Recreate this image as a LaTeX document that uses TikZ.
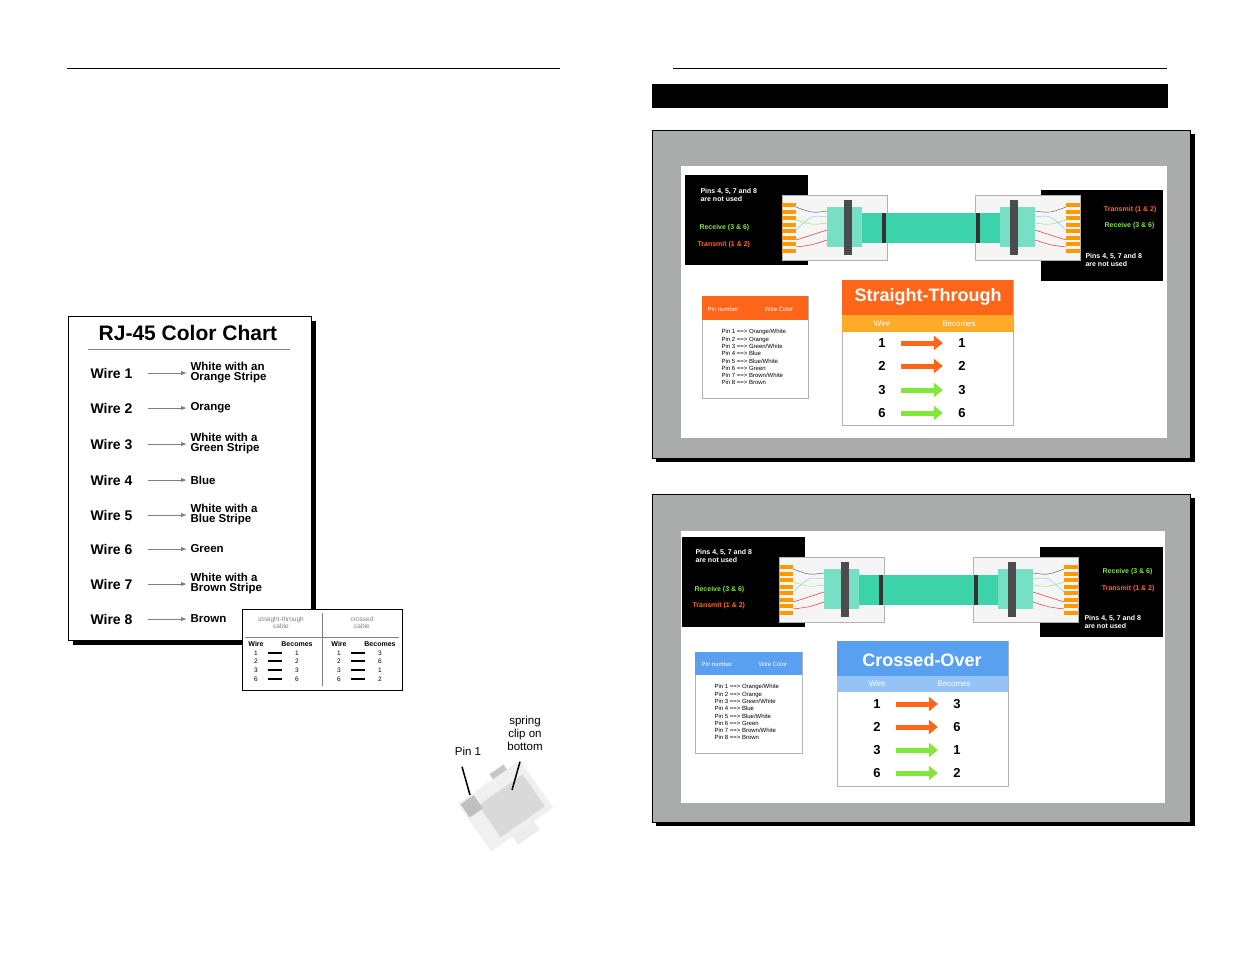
\documentclass[tikz,border=0pt]{standalone}
\usepackage{fontspec}
\setmainfont{Liberation Sans}
\usetikzlibrary{arrows.meta,positioning}
\definecolor{panelgray}{RGB}{170,172,172}
\definecolor{rjorange}{RGB}{255,102,26}
\definecolor{rjlight}{RGB}{255,170,40}
\definecolor{rjblue}{RGB}{90,160,240}
\definecolor{rjlblue}{RGB}{150,195,245}
\definecolor{rjgreen}{RGB}{130,230,60}
\definecolor{teal}{RGB}{60,210,170}
\tikzset{
  wire/.style={font=\fontsize{14}{14}\selectfont\bfseries, anchor=west},
  wdesc/.style={font=\fontsize{11.5}{10}\selectfont\bfseries, anchor=west, align=left},
  grayarrow/.style={draw=gray, -{Latex[length=6pt]}, line width=1pt},
  num/.style={font=\fontsize{13}{13}\selectfont\bfseries},
  fatarrow/.style={line width=5pt, -{Triangle[length=9pt,width=14pt]}, shorten <=12pt, shorten >=12pt},
  tiny/.style={font=\fontsize{6.5}{7}\selectfont, align=left},
  pinrow/.style={font=\fontsize{6}{7.3}\selectfont, align=left, anchor=north west},
}
\newcommand{\rjplug}[3]{% x, y, direction
  \begin{scope}[shift={(#1,#2)}, xscale=#3]
    \fill[white!92!gray, draw=gray!60] (0,0) rectangle (105,65);
    \fill[teal!70] (45,12) rectangle (80,52);
    \fill[black!70] (62,5) rectangle (70,60);
    \foreach \k in {0,...,7}
      \fill[orange!80!yellow] (0,8+\k*6.5) rectangle (14,12+\k*6.5);
    \draw[red] (14,45) .. controls (30,40) .. (45,35);
    \draw[red] (14,52) .. controls (30,50) .. (45,45);
    \draw[rjgreen] (14,25) .. controls (30,30) .. (45,28);
    \draw[cyan!60] (14,35) .. controls (30,20) .. (45,22);
    \draw[black!70] (14,12) .. controls (30,18) .. (45,16);
    \fill[teal] (80,18) rectangle (150,48);
    \fill[black!80] (100,18) rectangle (104,48);
  \end{scope}}
\begin{document}
\begin{tikzpicture}[x=1pt,y=-1pt]
\useasboundingbox (0,0) rectangle (1235,954);
\fill[white] (0,0) rectangle (1235,954);

% page rules and title bar
\draw (67,68) -- (560,68);
\draw (673,68) -- (1167,68);
\fill[black] (652,84) rectangle (1168,108);

% left color chart
\fill[black] (73,321) rectangle (316,645);
\draw[fill=white, line width=1pt] (68,316) rectangle (311,640);
\node[font=\fontsize{21}{21}\selectfont\bfseries] (chart) at (188,333) {RJ-45 Color Chart};
\draw[gray] (88,349) -- (290,349);
\foreach \i/\y/\d in {1/373/{White with an\\Orange Stripe},2/408/Orange,3/444/{White with a\\Green Stripe},4/480/Blue,5/515/{White with a\\Blue Stripe},6/549/Green,7/584/{White with a\\Brown Stripe},8/619/Brown}{
  \node[wire] (w\i) at (87,\y) {Wire \i};
  \node[wdesc] (d\i) at (187,\y) {\d};
  \draw[grayarrow] (w\i.east) ++(12,0) coordinate (s\i) -- (d\i.west);
}

% small cable table
\draw[fill=white, line width=1pt] (242,609) rectangle (402,690);
\draw[gray] (322,613) -- (322,686);
\draw[gray] (245,637) -- (399,637);
\node[tiny, align=center, gray] (st) at (281,623) {straight-through\\cable};
\node[tiny, align=center, gray] (cr) at (362,623) {crossed\\cable};
\node[tiny, font=\fontsize{7}{7}\selectfont\bfseries] (hw1) at (256,644) {Wire};
\node[tiny, font=\fontsize{7}{7}\selectfont\bfseries] (hb1) at (297,644) {Becomes};
\node[tiny, font=\fontsize{7}{7}\selectfont\bfseries] (hw2) at (339,644) {Wire};
\node[tiny, font=\fontsize{7}{7}\selectfont\bfseries] (hb2) at (380,644) {Becomes};
\foreach \a/\b/\c/\y in {1/1/3/653,2/2/6/661,3/3/1/670,6/6/2/679}{
  \node[tiny] (sa\a) at (256,\y) {\a};
  \node[tiny] (sb\a) at (297,\y) {\b};
  \node[tiny] (ca\a) at (339,\y) {\a};
  \node[tiny] (cb\a) at (380,\y) {\c};
  \draw[line width=2.5pt] (268,\y) -- (282,\y);
  \draw[line width=2.5pt] (351,\y) -- (365,\y);
}

% plug sketch
\begin{scope}[shift={(505,805)}, rotate=35]
  \fill[gray!12] (-38,-28) rectangle (38,30);
  \fill[gray!30] (-22,-15) rectangle (32,24);
  \fill[gray!50] (-36,-26) rectangle (-20,-10);
  \fill[gray!45] (5,-34) rectangle (22,-28);
  \fill[gray!15] (-12,30) rectangle (14,40);
\end{scope}
\node[font=\fontsize{11.5}{12}\selectfont] (pin1) at (468,751) {Pin 1};
\node[font=\fontsize{11.5}{13}\selectfont, align=center] (clip) at (525,733) {spring\\clip on\\bottom};
\coordinate (pinend) at (470,795);
\coordinate (clipend) at (512,790);
\draw[line width=1.5pt] (pin1.south) ++(-6,8) -- (pinend);
\draw[line width=1.5pt] (clip.south) ++(-5,8) -- (clipend);

% ---------- straight-through panel ----------
\fill[black] (656,134) rectangle (1195,462);
\draw[fill=panelgray] (652,130) rectangle (1190,458);
\fill[white] (681,166) rectangle (1167,438);
\fill[black] (685,175) rectangle (808,265);
\fill[black] (1041,190) rectangle (1163,281);
\node[tiny, white, font=\fontsize{7}{8}\selectfont\bfseries, anchor=north west] (nu1) at (697,185) {Pins 4, 5, 7 and 8\\are not used};
\node[tiny, rjgreen, font=\fontsize{7}{8}\selectfont\bfseries, anchor=west] (rx1) at (696,228) {Receive (3 \& 6)};
\node[tiny, rjorange, font=\fontsize{7}{8}\selectfont\bfseries, anchor=west] (tx1) at (694,245) {Transmit (1 \& 2)};
\node[tiny, rjorange, font=\fontsize{7}{8}\selectfont\bfseries, anchor=east] (tx2) at (1160,210) {Transmit (1 \& 2)};
\node[tiny, rjgreen, font=\fontsize{7}{8}\selectfont\bfseries, anchor=east] (rx2) at (1158,226) {Receive (3 \& 6)};
\node[tiny, white, font=\fontsize{7}{8}\selectfont\bfseries, anchor=north west] (nu2) at (1082,250) {Pins 4, 5, 7 and 8\\are not used};
\rjplug{782}{195}{1}
\rjplug{1080}{195}{-1}
% pin table
\draw[gray!60, fill=white] (702,296) rectangle (808,398);
\fill[rjorange] (702,296) rectangle (808,320);
\node[tiny, white, font=\fontsize{6}{7}\selectfont] (pn1) at (723,309) {Pin number};
\node[tiny, white, font=\fontsize{6}{7}\selectfont] (wc1) at (779,309) {Wire Color};
\node[pinrow] (pins1) at (718,326) {Pin 1 ==> Orange/White\\Pin 2 ==> Orange\\Pin 3 ==> Green/White\\Pin 4 ==> Blue\\Pin 5 ==> Blue/White\\Pin 6 ==> Green\\Pin 7 ==> Brown/White\\Pin 8 ==> Brown};
% mapping table
\draw[gray!60, fill=white] (842,280) rectangle (1013,425);
\fill[rjorange] (842,280) rectangle (1013,315);
\fill[rjlight] (842,315) rectangle (1013,332);
\node[white, font=\fontsize{18}{18}\selectfont\bfseries] (sthead) at (928,297) {Straight-Through};
\node[white, font=\fontsize{8}{8}\selectfont] (stw) at (882,324) {Wire};
\node[white, font=\fontsize{8}{8}\selectfont] (stb) at (959,324) {Becomes};
\foreach \a/\b/\y/\c in {1/1/343/rjorange,2/2/366/rjorange,3/3/390/rjgreen,6/6/413/rjgreen}{
  \node[num] (ta\a) at (882,\y) {\a};
  \node[num] (tb\a) at (962,\y) {\b};
  \draw[fatarrow, \c] (ta\a) -- (tb\a);
}

% ---------- crossed-over panel ----------
\fill[black] (656,498) rectangle (1195,826);
\draw[fill=panelgray] (652,494) rectangle (1190,822);
\fill[white] (681,531) rectangle (1165,803);
\fill[black] (682,537) rectangle (805,627);
\fill[black] (1040,547) rectangle (1163,637);
\node[tiny, white, font=\fontsize{7}{8}\selectfont\bfseries, anchor=north west] (nu3) at (692,546) {Pins 4, 5, 7 and 8\\are not used};
\node[tiny, rjgreen, font=\fontsize{7}{8}\selectfont\bfseries, anchor=west] (rx3) at (691,590) {Receive (3 \& 6)};
\node[tiny, rjorange, font=\fontsize{7}{8}\selectfont\bfseries, anchor=west] (tx3) at (689,606) {Transmit (1 \& 2)};
\node[tiny, rjgreen, font=\fontsize{7}{8}\selectfont\bfseries, anchor=east] (rx4) at (1156,572) {Receive (3 \& 6)};
\node[tiny, rjorange, font=\fontsize{7}{8}\selectfont\bfseries, anchor=east] (tx4) at (1158,589) {Transmit (1 \& 2)};
\node[tiny, white, font=\fontsize{7}{8}\selectfont\bfseries, anchor=north west] (nu4) at (1081,612) {Pins 4, 5, 7 and 8\\are not used};
\rjplug{779}{557}{1}
\rjplug{1078}{557}{-1}
% pin table
\draw[gray!60, fill=white] (695,652) rectangle (802,753);
\fill[rjblue] (695,652) rectangle (802,675);
\node[tiny, white, font=\fontsize{6}{7}\selectfont] (pn2) at (717,664) {Pin number};
\node[tiny, white, font=\fontsize{6}{7}\selectfont] (wc2) at (773,664) {Wire Color};
\node[pinrow] (pins2) at (711,681) {Pin 1 ==> Orange/White\\Pin 2 ==> Orange\\Pin 3 ==> Green/White\\Pin 4 ==> Blue\\Pin 5 ==> Blue/White\\Pin 6 ==> Green\\Pin 7 ==> Brown/White\\Pin 8 ==> Brown};
% mapping table
\draw[gray!60, fill=white] (837,641) rectangle (1008,786);
\fill[rjblue] (837,641) rectangle (1008,676);
\fill[rjlblue] (837,676) rectangle (1008,692);
\node[white, font=\fontsize{18}{18}\selectfont\bfseries] (cohead) at (922,660) {Crossed-Over};
\node[white, font=\fontsize{8}{8}\selectfont] (cow) at (877,684) {Wire};
\node[white, font=\fontsize{8}{8}\selectfont] (cob) at (954,684) {Becomes};
\foreach \a/\b/\y/\c in {1/3/704/rjorange,2/6/727/rjorange,3/1/750/rjgreen,6/2/773/rjgreen}{
  \node[num] (xa\a) at (877,\y) {\a};
  \node[num] (xb\a) at (957,\y) {\b};
  \draw[fatarrow, \c] (xa\a) -- (xb\a);
}
\end{tikzpicture}
\end{document}
